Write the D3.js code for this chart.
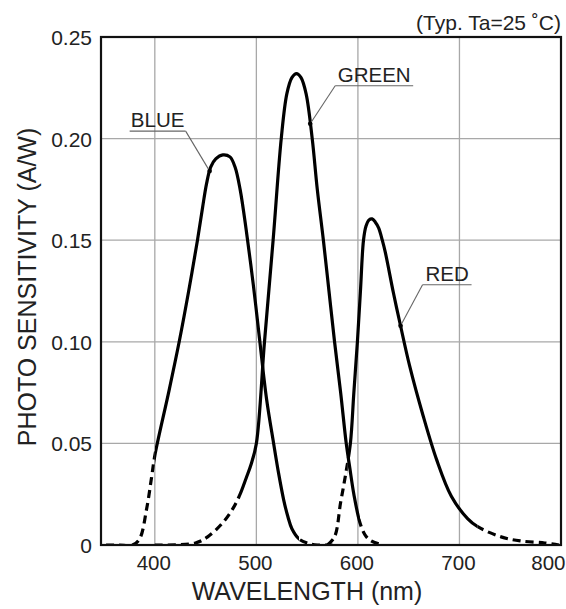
<!DOCTYPE html>
<html>
<head>
<meta charset="utf-8">
<script src="https://cdn.jsdelivr.net/npm/d3@7/dist/d3.min.js"></script>
<style>
  html, body { margin: 0; padding: 0; background: #fff; }
  svg { display: block; }
  text { font-family: "Liberation Sans", Arial, Helvetica, sans-serif; fill: #222; }
</style>
</head>
<body>
<svg id="chart" width="566" height="609"></svg>
<script>
// ---- data ----
const wavelengthTicks = [400, 500, 600, 700, 800];
const sensitivityTicks = [0, 0.05, 0.10, 0.15, 0.20, 0.25];
const sensitivityTickLabels = ["0", "0.05", "0.10", "0.15", "0.20", "0.25"];
const seriesNames = ["BLUE", "GREEN", "RED"];

const blueWl  = [352, 365, 378, 385, 392, 397, 400, 414, 424, 433, 442, 447, 451, 455, 460, 467, 474, 479, 484, 490, 497, 503, 510, 517, 522, 527, 531, 535, 542, 550, 560, 575];
const blueVal = [0, 0, 0, 0.003, 0.018, 0.034, 0.044, 0.076, 0.10, 0.124, 0.15, 0.166, 0.178, 0.186, 0.190, 0.192, 0.191, 0.186, 0.175, 0.155, 0.128, 0.102, 0.072, 0.05, 0.035, 0.022, 0.014, 0.008, 0.003, 0.001, 0, 0];
const blueSolid = [400, 542];

const greenWl  = [400, 440, 452, 467, 477, 484, 490, 495, 500, 508, 516.5, 524.5, 530, 535, 539.5, 544, 549, 555, 560, 566, 571.5, 577, 583, 588.5, 592, 596, 602, 607, 613, 625];
const greenVal = [0, 0.001, 0.004, 0.011, 0.018, 0.025, 0.033, 0.040, 0.05, 0.10, 0.15, 0.20, 0.222, 0.230, 0.232, 0.230, 0.222, 0.20, 0.175, 0.15, 0.125, 0.10, 0.075, 0.05, 0.038, 0.025, 0.011, 0.005, 0.002, 0];
const greenSolid = [484, 602];

const redWl  = [570, 577, 583, 588, 592.6, 596, 599.5, 602.5, 605.5, 608, 611, 614, 617, 620.5, 624, 627, 635, 641.5, 651, 664, 677.5, 692, 708, 718, 741, 760, 784, 798];
const redVal = [0, 0.004, 0.021, 0.035, 0.05, 0.075, 0.10, 0.125, 0.150, 0.157, 0.160, 0.1605, 0.159, 0.156, 0.150, 0.144, 0.124, 0.109, 0.088, 0.064, 0.042, 0.024, 0.013, 0.009, 0.004, 0.002, 0.001, 0];
const redSolid = [590, 718];

// wavelength where each label's leader touches its curve
const labelAnchorWl = [454, 553, 642];

// ---- layout ----
const svg = d3.select("#chart");
const plotL = 101, plotR = 561, plotT = 37, plotB = 545;

const x = d3.scaleLinear().domain([347, 800]).range([plotL, plotR]);
const y = d3.scaleLinear().domain([0, 0.25]).range([plotB, plotT]);

// grid
const grid = svg.append("g");
grid.selectAll("line.v").data(wavelengthTicks.filter(d => d < 800)).join("line")
  .attr("class", "v")
  .attr("x1", d => x(d)).attr("x2", d => x(d))
  .attr("y1", plotT).attr("y2", plotB)
  .attr("stroke", "#a8a8a8").attr("stroke-width", 1.3);
grid.selectAll("line.h").data(sensitivityTicks.filter(d => d > 0 && d < 0.25)).join("line")
  .attr("class", "h")
  .attr("x1", plotL).attr("x2", plotR)
  .attr("y1", d => y(d)).attr("y2", d => y(d))
  .attr("stroke", "#a8a8a8").attr("stroke-width", 1.3);

// axes labels (ticks)
const xAxis = d3.axisBottom(x).tickValues(wavelengthTicks).tickSize(0).tickPadding(0);
const gx = svg.append("g").attr("transform", `translate(0,${plotB})`).call(xAxis);
gx.select(".domain").remove();
gx.selectAll("text")
  .attr("font-size", 20.5).attr("fill", "#222")
  .attr("font-family", "'Liberation Sans', Arial, sans-serif")
  .attr("dy", null).attr("y", 25)
  .attr("text-anchor", d => d === 800 ? "end" : "middle")
  .attr("dx", d => d === 800 ? 4 : -1.5);

const yAxis = d3.axisLeft(y).tickValues(sensitivityTicks)
  .tickFormat((d, i) => sensitivityTickLabels[i]).tickSize(0).tickPadding(0);
const gy = svg.append("g").attr("transform", `translate(${plotL},0)`).call(yAxis);
gy.select(".domain").remove();
gy.selectAll("text")
  .attr("font-size", 21).attr("fill", "#222")
  .attr("font-family", "'Liberation Sans', Arial, sans-serif")
  .attr("x", -9).attr("dy", "0.36em");

// curves
const seriesData = [
  { name: seriesNames[0], wl: blueWl, val: blueVal, solid: blueSolid },
  { name: seriesNames[1], wl: greenWl, val: greenVal, solid: greenSolid },
  { name: seriesNames[2], wl: redWl, val: redVal, solid: redSolid }
];

const line = d3.line().x(d => x(d[0])).y(d => y(Math.max(0, d[1]))).curve(d3.curveCatmullRom.alpha(0.5));
const defs = svg.append("defs");

seriesData.forEach((s, i) => {
  const pts = s.wl.map((w, k) => [w, s.val[k]]);
  const solidId = "solid" + i, dashId = "dash" + i;
  defs.append("clipPath").attr("id", solidId).append("rect")
    .attr("x", x(s.solid[0])).attr("width", x(s.solid[1]) - x(s.solid[0]))
    .attr("y", 0).attr("height", plotB + 1);
  const dc = defs.append("clipPath").attr("id", dashId);
  dc.append("rect").attr("x", 0).attr("width", x(s.solid[0])).attr("y", 0).attr("height", plotB + 1);
  dc.append("rect").attr("x", x(s.solid[1])).attr("width", 566 - x(s.solid[1])).attr("y", 0).attr("height", plotB + 1);

  svg.append("path").datum(pts).attr("d", line)
    .attr("fill", "none").attr("stroke", "#000").attr("stroke-width", 3.2)
    .attr("stroke-linejoin", "round").attr("stroke-linecap", "round")
    .attr("clip-path", `url(#${solidId})`);
  svg.append("path").datum(pts).attr("d", line)
    .attr("fill", "none").attr("stroke", "#000").attr("stroke-width", 3.2)
    .attr("stroke-dasharray", "8,5")
    .attr("clip-path", `url(#${dashId})`);
});

// frame
svg.append("rect").attr("x", plotL).attr("y", plotT)
  .attr("width", plotR - plotL).attr("height", plotB - plotT)
  .attr("fill", "none").attr("stroke", "#111").attr("stroke-width", 2.2);

// curve labels with leaders
const labelOffsets = [
  { dx: -24, dy: -40, tw: 56 },   // BLUE
  { dx: 25,  dy: -38, tw: 78 },   // GREEN
  { dx: 22,  dy: -41, tw: 49 }    // RED
];
seriesData.forEach((s, i) => {
  const interp = d3.scaleLinear().domain(s.wl).range(s.val);
  const w = labelAnchorWl[i];
  const px = x(w), py = y(interp(w));
  const o = labelOffsets[i];
  const ex = px + o.dx, ey = py + o.dy;    // knee of the leader
  const g = svg.append("g");
  let lx1, lx2;
  if (o.dx < 0) { lx2 = ex; lx1 = ex - o.tw; } else { lx1 = ex; lx2 = ex + o.tw; }
  g.append("line").attr("x1", px).attr("y1", py).attr("x2", ex).attr("y2", ey)
    .attr("stroke", "#666").attr("stroke-width", 1.1);
  g.append("line").attr("x1", lx1).attr("y1", ey).attr("x2", lx2).attr("y2", ey)
    .attr("stroke", "#666").attr("stroke-width", 1.1);
  g.append("circle").attr("cx", px).attr("cy", py).attr("r", 2.3).attr("fill", "#000");
  g.append("text").attr("x", (lx1 + lx2) / 2).attr("y", ey - 4)
    .attr("text-anchor", "middle").attr("font-size", 20.5).text(s.name);
});

// condition note
svg.append("text").attr("x", 561).attr("y", 30).attr("text-anchor", "end")
  .attr("font-size", 21).text("(Typ. Ta=25 \u02DAC)");

// axis titles
svg.append("text").attr("x", 307).attr("y", 600).attr("text-anchor", "middle")
  .attr("font-size", 25).text("WAVELENGTH (nm)");
svg.append("text").attr("transform", "translate(36,287) rotate(-90)")
  .attr("text-anchor", "middle").attr("font-size", 25).text("PHOTO SENSITIVITY (A/W)");
</script>
</body>
</html>
